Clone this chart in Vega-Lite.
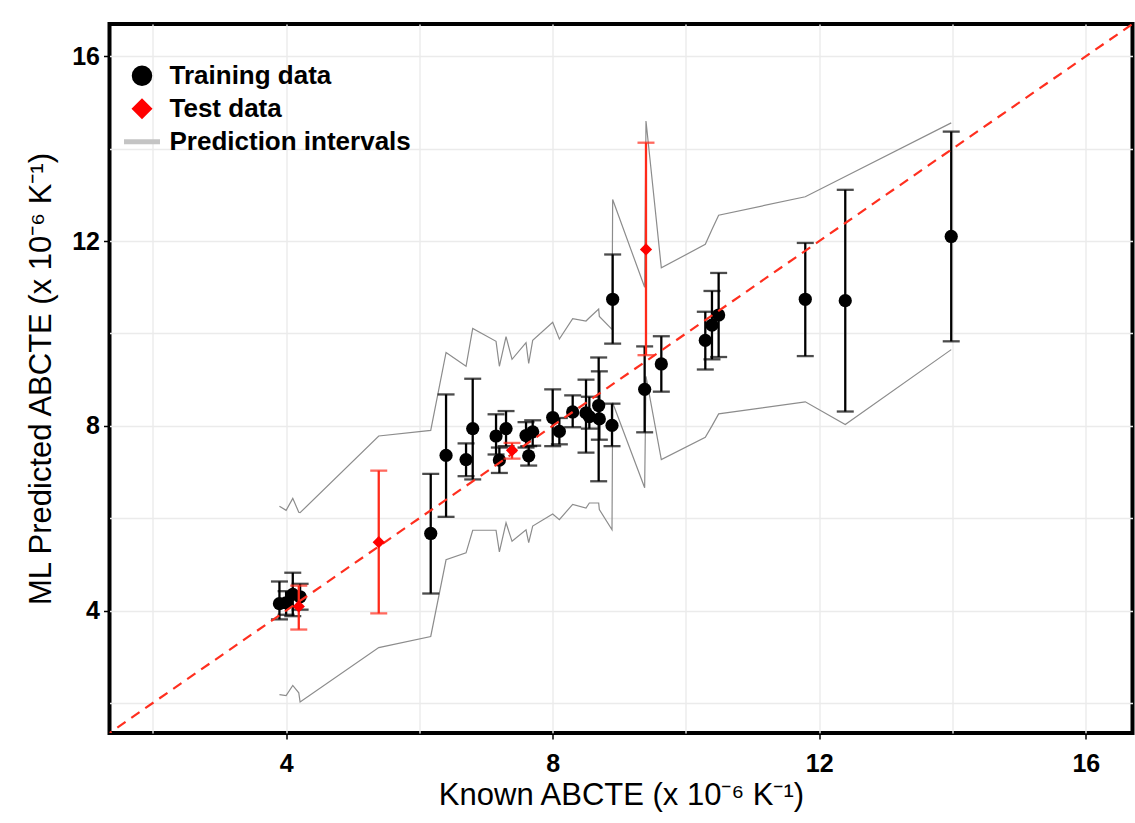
{
  "$schema": "https://vega.github.io/schema/vega-lite/v6.json",
  "width": 1023,
  "height": 709,
  "autosize": {"type": "none"},
  "padding": {"left": 109.5, "top": 24, "right": 2.5, "bottom": 90},
  "background": "white",
  "config": {
    "view": {"stroke": "black", "strokeWidth": 4},
    "axis": {
      "domain": false,
      "grid": true,
      "gridColor": "#ebebeb",
      "gridWidth": 1.4,
      "tickColor": "black",
      "tickWidth": 1.5,
      "tickSize": 6,
      "labelFont": "Liberation Sans",
      "labelFontWeight": "bold",
      "labelFontSize": 25,
      "labelColor": "black",
      "labelOverlap": false,
      "titleFont": "Liberation Sans",
      "titleFontWeight": "normal",
      "titleFontSize": 31,
      "titleColor": "black"
    },
    "legend": {
      "orient": "none",
      "legendX": 12,
      "legendY": 35.5,
      "padding": 0,
      "rowPadding": 0,
      "clipHeight": 32.5,
      "labelOffset": 7,
      "labelFont": "Liberation Sans",
      "labelFontSize": 26,
      "labelFontWeight": "bold",
      "labelColor": "black",
      "labelLimit": 400
    }
  },
  "datasets": {
    "abcte": [
      {"x": 3.9, "pred": 4.15, "lo": 3.81, "hi": 4.63, "pi_lo": 2.18, "pi_hi": 6.26, "set": "Training data"},
      {"x": 4.0, "pred": 4.17, "lo": 3.91, "hi": 4.42, "pi_lo": 2.16, "pi_hi": 6.17, "set": "Training data"},
      {"x": 4.1, "pred": 4.35, "lo": 3.88, "hi": 4.82, "pi_lo": 2.38, "pi_hi": 6.43, "set": "Training data"},
      {"x": 4.19, "pred": 4.09, "lo": 3.59, "hi": 4.54, "pi_lo": 2.22, "pi_hi": 6.13, "set": "Test data"},
      {"x": 4.21, "pred": 4.3, "lo": 4.02, "hi": 4.58, "pi_lo": 2.02, "pi_hi": 6.12, "set": "Training data"},
      {"x": 5.39, "pred": 5.48, "lo": 3.94, "hi": 7.03, "pi_lo": 3.2, "pi_hi": 7.78, "set": "Test data"},
      {"x": 6.17, "pred": 5.67, "lo": 4.37, "hi": 6.96, "pi_lo": 3.44, "pi_hi": 7.9, "set": "Training data"},
      {"x": 6.4, "pred": 7.36, "lo": 6.03, "hi": 8.68, "pi_lo": 5.1, "pi_hi": 9.59, "set": "Training data"},
      {"x": 6.7, "pred": 7.27, "lo": 6.91, "hi": 7.62, "pi_lo": 5.25, "pi_hi": 9.29, "set": "Training data"},
      {"x": 6.8, "pred": 7.94, "lo": 6.84, "hi": 9.02, "pi_lo": 5.74, "pi_hi": 10.11, "set": "Training data"},
      {"x": 7.15, "pred": 7.78, "lo": 7.38, "hi": 8.25, "pi_lo": 5.74, "pi_hi": 9.83, "set": "Training data"},
      {"x": 7.2, "pred": 7.26, "lo": 6.98, "hi": 7.53, "pi_lo": 5.27, "pi_hi": 9.29, "set": "Training data"},
      {"x": 7.3, "pred": 7.94, "lo": 7.56, "hi": 8.32, "pi_lo": 5.9, "pi_hi": 9.93, "set": "Training data"},
      {"x": 7.39, "pred": 7.47, "lo": 7.29, "hi": 7.63, "pi_lo": 5.5, "pi_hi": 9.44, "set": "Test data"},
      {"x": 7.6, "pred": 7.79, "lo": 7.53, "hi": 8.08, "pi_lo": 5.75, "pi_hi": 9.8, "set": "Training data"},
      {"x": 7.64, "pred": 7.35, "lo": 7.14, "hi": 7.56, "pi_lo": 5.47, "pi_hi": 9.35, "set": "Training data"},
      {"x": 7.7, "pred": 7.87, "lo": 7.57, "hi": 8.12, "pi_lo": 5.83, "pi_hi": 9.85, "set": "Training data"},
      {"x": 8.0, "pred": 8.18, "lo": 7.56, "hi": 8.79, "pi_lo": 6.09, "pi_hi": 10.24, "set": "Training data"},
      {"x": 8.1, "pred": 7.88, "lo": 7.6, "hi": 8.17, "pi_lo": 5.97, "pi_hi": 9.88, "set": "Training data"},
      {"x": 8.3, "pred": 8.3, "lo": 7.97, "hi": 8.66, "pi_lo": 6.3, "pi_hi": 10.32, "set": "Training data"},
      {"x": 8.5, "pred": 8.28, "lo": 7.42, "hi": 9.0, "pi_lo": 6.22, "pi_hi": 10.27, "set": "Training data"},
      {"x": 8.55, "pred": 8.2, "lo": 7.94, "hi": 8.63, "pi_lo": 6.33, "pi_hi": 10.34, "set": "Training data"},
      {"x": 8.69, "pred": 8.44, "lo": 6.8, "hi": 9.48, "pi_lo": 6.33, "pi_hi": 10.53, "set": "Training data"},
      {"x": 8.7, "pred": 8.15, "lo": 7.7, "hi": 9.18, "pi_lo": 6.19, "pi_hi": 10.37, "set": "Training data"},
      {"x": 8.89, "pred": 8.01, "lo": 7.56, "hi": 8.48, "pi_lo": 5.75, "pi_hi": 10.09, "set": "Training data"},
      {"x": 8.9, "pred": 10.74, "lo": 9.78, "hi": 11.71, "pi_lo": 8.5, "pi_hi": 12.9, "set": "Training data"},
      {"x": 9.38, "pred": 8.79, "lo": 7.86, "hi": 9.72, "pi_lo": 6.66, "pi_hi": 11.0, "set": "Training data"},
      {"x": 9.4, "pred": 11.82, "lo": 9.53, "hi": 14.13, "pi_lo": 9.07, "pi_hi": 14.6, "set": "Test data"},
      {"x": 9.63, "pred": 9.34, "lo": 8.74, "hi": 9.94, "pi_lo": 7.27, "pi_hi": 11.42, "set": "Training data"},
      {"x": 10.29, "pred": 9.85, "lo": 9.22, "hi": 10.47, "pi_lo": 7.75, "pi_hi": 11.93, "set": "Training data"},
      {"x": 10.39, "pred": 10.18, "lo": 9.44, "hi": 10.92, "pi_lo": 8.0, "pi_hi": 12.25, "set": "Training data"},
      {"x": 10.49, "pred": 10.4, "lo": 9.49, "hi": 11.31, "pi_lo": 8.26, "pi_hi": 12.56, "set": "Training data"},
      {"x": 11.79, "pred": 10.74, "lo": 9.51, "hi": 11.96, "pi_lo": 8.52, "pi_hi": 12.96, "set": "Training data"},
      {"x": 12.39, "pred": 10.71, "lo": 8.31, "hi": 13.11, "pi_lo": 8.03, "pi_hi": 13.4, "set": "Training data"},
      {"x": 13.98, "pred": 12.1, "lo": 9.83, "hi": 14.37, "pi_lo": 9.65, "pi_hi": 14.56, "set": "Training data"}
    ],
    "identity": [{"v": 0}, {"v": 18}]
  },
  "layer": [
    {
      "data": {"name": "abcte"},
      "transform": [{"fold": ["pi_lo", "pi_hi"], "as": ["bound", "pi"]}],
      "mark": {"type": "line", "color": "#8c8c8c", "strokeWidth": 1.2},
      "encoding": {
        "x": {
          "field": "x", "type": "quantitative",
          "scale": {"domain": [1.35, 16.7], "nice": false, "zero": false},
          "axis": {
            "values": [2, 4, 6, 8, 10, 12, 14, 16],
            "labelExpr": "datum.value % 4 === 0 ? format(datum.value, 'd') : ''",
            "tickOpacity": {"condition": {"test": "datum.value % 4 === 0", "value": 1}, "value": 0},
            "labelPadding": 12,
            "titlePadding": 4,
            "title": "Known ABCTE (x 10⁻⁶ K⁻¹)"
          }
        },
        "y": {
          "field": "pi", "type": "quantitative",
          "scale": {"domain": [1.35, 16.7], "nice": false, "zero": false},
          "axis": {
            "values": [2, 4, 6, 8, 10, 12, 14, 16],
            "labelExpr": "datum.value % 4 === 0 ? format(datum.value, 'd') : ''",
            "tickOpacity": {"condition": {"test": "datum.value % 4 === 0", "value": 1}, "value": 0},
            "labelPadding": 4,
            "titlePadding": 14,
            "title": "ML Predicted ABCTE (x 10⁻⁶ K⁻¹)"
          }
        },
        "detail": {"field": "bound"}
      }
    },
    {
      "data": {"name": "abcte"},
      "transform": [{"filter": "datum.set === 'Legend only'"}],
      "mark": {"type": "point", "filled": true, "opacity": 1},
      "encoding": {
        "x": {"field": "x", "type": "quantitative"},
        "y": {"field": "pred", "type": "quantitative"},
        "color": {
          "field": "set", "type": "nominal", "legend": {"title": null},
          "scale": {"domain": ["Training data", "Test data", "Prediction intervals"], "range": ["black", "#ff0000", "#c4c4c4"]}
        },
        "shape": {
          "field": "set", "type": "nominal", "legend": {"title": null},
          "scale": {"domain": ["Training data", "Test data", "Prediction intervals"], "range": ["circle", "diamond", "stroke"]}
        },
        "size": {
          "field": "set", "type": "nominal", "legend": {"title": null},
          "scale": {"type": "ordinal", "domain": ["Training data", "Test data", "Prediction intervals"], "range": [420, 441, 1296]}
        },
        "stroke": {
          "field": "set", "type": "nominal", "legend": {"title": null},
          "scale": {"domain": ["Training data", "Test data", "Prediction intervals"], "range": ["black", "#ff0000", "#c4c4c4"]}
        },
        "strokeWidth": {
          "field": "set", "type": "nominal", "legend": {"title": null},
          "scale": {"type": "ordinal", "domain": ["Training data", "Test data", "Prediction intervals"], "range": [0, 0, 5]}
        }
      }
    },
    {
      "data": {"name": "abcte"},
      "transform": [{"filter": "datum.set === 'Training data'"}],
      "mark": {"type": "rule", "color": "black", "strokeWidth": 2.3},
      "encoding": {
        "x": {"field": "x", "type": "quantitative"},
        "y": {"field": "lo", "type": "quantitative"},
        "y2": {"field": "hi"}
      }
    },
    {
      "data": {"name": "abcte"},
      "transform": [
        {"filter": "datum.set === 'Training data'"},
        {"fold": ["lo", "hi"], "as": ["cap", "cy"]}
      ],
      "mark": {"type": "tick", "orient": "horizontal", "color": "black", "size": 17, "thickness": 2.3},
      "encoding": {
        "x": {"field": "x", "type": "quantitative"},
        "y": {"field": "cy", "type": "quantitative"}
      }
    },
    {
      "data": {"name": "abcte"},
      "transform": [{"filter": "datum.set === 'Training data'"}],
      "mark": {"type": "point", "filled": true, "opacity": 1, "size": 175},
      "encoding": {
        "x": {"field": "x", "type": "quantitative"},
        "y": {"field": "pred", "type": "quantitative"},
        "color": {"field": "set", "type": "nominal", "legend": {"title": null}},
        "shape": {"field": "set", "type": "nominal", "legend": {"title": null}}
      }
    },
    {
      "data": {"name": "identity"},
      "mark": {"type": "line", "color": "#ff2f1f", "strokeWidth": 2.2, "strokeDash": [10, 7], "clip": true},
      "encoding": {
        "x": {"field": "v", "type": "quantitative"},
        "y": {"field": "v", "type": "quantitative"}
      }
    },
    {
      "data": {"name": "abcte"},
      "transform": [{"filter": "datum.set === 'Test data'"}],
      "mark": {"type": "rule", "color": "#ff2a1a", "strokeWidth": 2.3},
      "encoding": {
        "x": {"field": "x", "type": "quantitative"},
        "y": {"field": "lo", "type": "quantitative"},
        "y2": {"field": "hi"}
      }
    },
    {
      "data": {"name": "abcte"},
      "transform": [
        {"filter": "datum.set === 'Test data'"},
        {"fold": ["lo", "hi"], "as": ["cap", "cy"]}
      ],
      "mark": {"type": "tick", "orient": "horizontal", "color": "#ff2a1a", "size": 17, "thickness": 2.3},
      "encoding": {
        "x": {"field": "x", "type": "quantitative"},
        "y": {"field": "cy", "type": "quantitative"}
      }
    },
    {
      "data": {"name": "abcte"},
      "transform": [{"filter": "datum.set === 'Test data'"}],
      "mark": {"type": "point", "filled": true, "opacity": 1, "size": 150},
      "encoding": {
        "x": {"field": "x", "type": "quantitative"},
        "y": {"field": "pred", "type": "quantitative"},
        "color": {"field": "set", "type": "nominal", "legend": {"title": null}},
        "shape": {"field": "set", "type": "nominal", "legend": {"title": null}}
      }
    }
  ]
}
